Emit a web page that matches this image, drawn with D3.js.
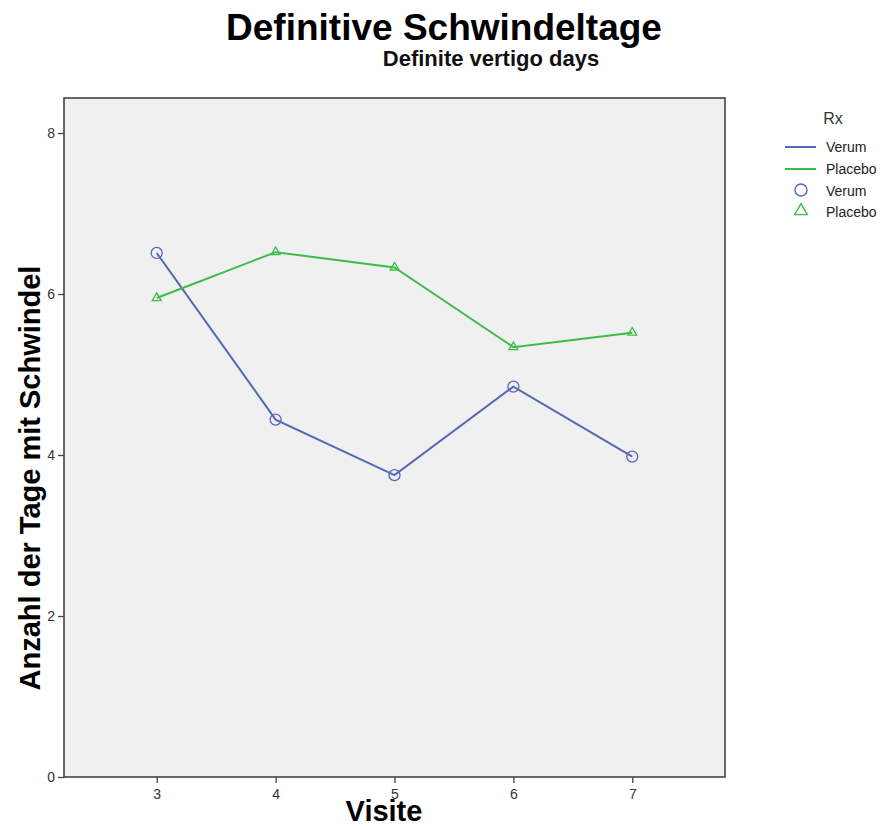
<!DOCTYPE html>
<html>
<head>
<meta charset="utf-8">
<script src="https://cdn.jsdelivr.net/npm/d3@7"></script>
<style>
  html, body { margin: 0; padding: 0; background: #fff; }
  svg { display: block; font-family: "Liberation Sans", Arial, sans-serif; }
</style>
</head>
<body>
<svg id="chart" width="887" height="827"></svg>
<script>
// Visits and mean number of vertigo days per treatment group
const visits = [3, 4, 5, 6, 7];
const verum = [6.51, 4.44, 3.75, 4.85, 3.98];
const placebo = [5.95, 6.52, 6.33, 5.34, 5.52];
const yTicks = [0, 2, 4, 6, 8];
const groups = ["Verum", "Placebo"];

const svg = d3.select("#chart");
const box = { left: 64, right: 725, top: 98, bottom: 777 };

const x = d3.scaleLinear().domain([2.22, 7.78]).range([box.left, box.right]);
const y = d3.scaleLinear().domain([0, 8.435]).range([box.bottom, box.top]);

const colors = { Verum: "#5568b8", Placebo: "#3cbd4a" };

// Plot background
svg.append("rect")
  .attr("x", box.left).attr("y", box.top)
  .attr("width", box.right - box.left).attr("height", box.bottom - box.top)
  .attr("fill", "#f0f0f0")
  .attr("stroke", "#444").attr("stroke-width", 1.6);

// Axes
const yAxis = d3.axisLeft(y).tickValues(yTicks).tickSize(6).tickPadding(3).tickFormat(d3.format("d"));
const xAxis = d3.axisBottom(x).tickValues(visits).tickSize(6).tickPadding(6).tickFormat(d3.format("d"));

const gy = svg.append("g").attr("transform", `translate(${box.left},0)`).call(yAxis);
const gx = svg.append("g").attr("transform", `translate(0,${box.bottom})`).call(xAxis);
[gy, gx].forEach(g => {
  g.select(".domain").remove();
  g.selectAll(".tick line").attr("stroke", "#444").attr("stroke-width", 1.3);
  g.selectAll(".tick text").attr("fill", "#333").style("font-size", "14px");
});

// Series lines
const line = d3.line().x((d, i) => x(visits[i])).y(d => y(d));
const series = [
  { name: "Verum", values: verum },
  { name: "Placebo", values: placebo }
];
series.forEach(s => {
  svg.append("path")
    .datum(s.values)
    .attr("d", line)
    .attr("fill", "none")
    .attr("stroke", colors[s.name])
    .attr("stroke-width", 2);
});

// Markers
const tri = d3.symbol().type(d3.symbolTriangle).size(34);
svg.append("g").selectAll("circle")
  .data(verum).join("circle")
  .attr("cx", (d, i) => x(visits[i])).attr("cy", d => y(d))
  .attr("r", 5.5)
  .attr("fill", "none").attr("stroke", colors.Verum).attr("stroke-width", 1.3);
svg.append("g").selectAll("path")
  .data(placebo).join("path")
  .attr("d", tri)
  .attr("transform", (d, i) => `translate(${x(visits[i])},${y(d)})`)
  .attr("fill", "none").attr("stroke", colors.Placebo).attr("stroke-width", 1.3);

// Titles
svg.append("text").attr("x", 444).attr("y", 40).attr("text-anchor", "middle")
  .style("font-size", "37px").style("font-weight", "bold").attr("fill", "#000")
  .text("Definitive Schwindeltage");
svg.append("text").attr("x", 491).attr("y", 66).attr("text-anchor", "middle")
  .style("font-size", "22px").style("font-weight", "bold").attr("fill", "#111")
  .text("Definite vertigo days");

// Axis titles
svg.append("text").attr("x", 384).attr("y", 821).attr("text-anchor", "middle")
  .style("font-size", "29px").style("font-weight", "bold").attr("fill", "#000")
  .text("Visite");
svg.append("text")
  .attr("transform", "translate(40,478) rotate(-90)")
  .attr("text-anchor", "middle")
  .style("font-size", "29px").style("font-weight", "bold").attr("fill", "#000")
  .text("Anzahl der Tage mit Schwindel");

// Legend
const lg = svg.append("g");
lg.append("text").attr("x", 833).attr("y", 124).attr("text-anchor", "middle")
  .style("font-size", "16px").attr("fill", "#333").text("Rx");
groups.forEach((g, i) => {
  const yy = 147 + i * 22;
  lg.append("line").attr("x1", 785).attr("x2", 816).attr("y1", yy).attr("y2", yy)
    .attr("stroke", colors[g]).attr("stroke-width", 2);
  lg.append("text").attr("x", 826).attr("y", yy + 5)
    .style("font-size", "14px").attr("fill", "#222").text(g);
});
lg.append("circle").attr("cx", 801).attr("cy", 190).attr("r", 6)
  .attr("fill", "none").attr("stroke", colors.Verum).attr("stroke-width", 1.4);
lg.append("text").attr("x", 826).attr("y", 196).style("font-size", "14px").attr("fill", "#222").text(groups[0]);
lg.append("path").attr("d", d3.symbol().type(d3.symbolTriangle).size(70))
  .attr("transform", "translate(801,211)")
  .attr("fill", "none").attr("stroke", colors.Placebo).attr("stroke-width", 1.4);
lg.append("text").attr("x", 826).attr("y", 217).style("font-size", "14px").attr("fill", "#222").text(groups[1]);
</script>
</body>
</html>
